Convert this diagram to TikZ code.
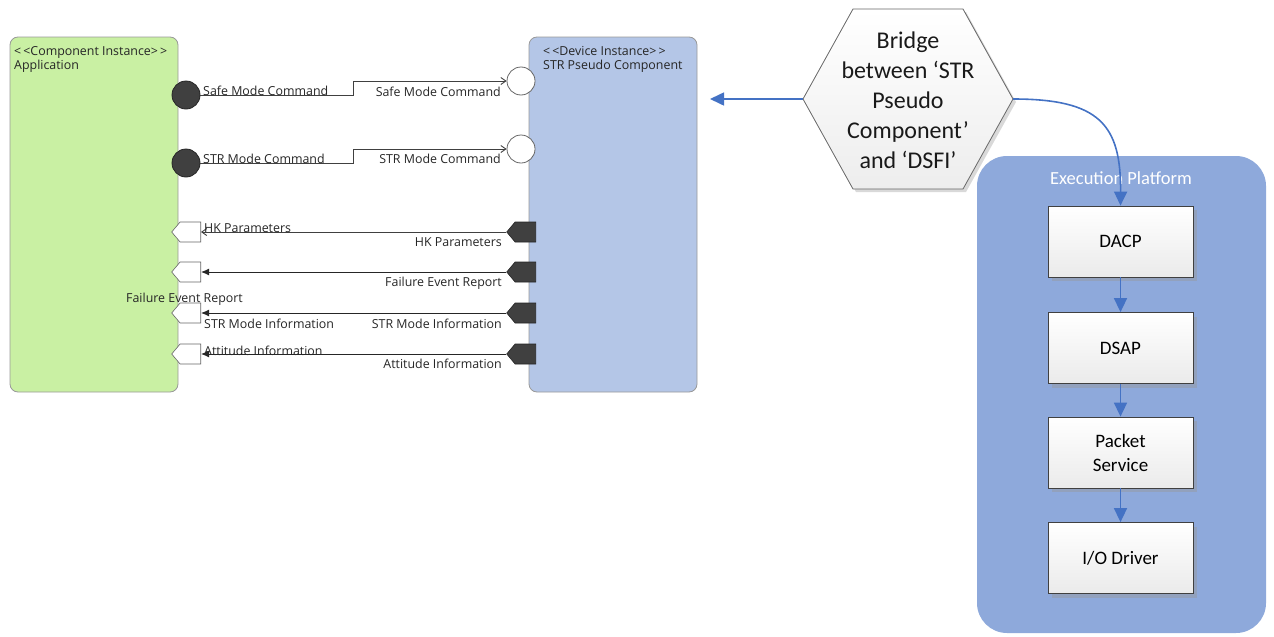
\documentclass[tikz,border=0pt]{standalone}
\usepackage{fontspec}
\setmainfont{Carlito}
\newfontfamily\uifont{Open Sans}
\usetikzlibrary{arrows.meta,shapes.symbols,shadows}

\definecolor{appgreen}{HTML}{C9F0A3}
\definecolor{devblue}{HTML}{B4C6E7}
\definecolor{platblue}{HTML}{8EA9DB}
\definecolor{linkblue}{HTML}{4472C4}
\definecolor{portdark}{HTML}{404040}

\begin{document}
\begin{tikzpicture}[x=1pt,y=-1pt,
  comp/.style={draw=black!40, line width=0.8pt, rounded corners=8pt,
    minimum width=168, minimum height=355, inner sep=0pt},
  uitxt/.style={font=\uifont\fontsize{12.4}{14}\selectfont, inner sep=0pt, text=black!85},
  reqport/.style={circle, draw=black!85, fill=portdark, line width=0.8pt,
    minimum size=28, inner sep=0pt},
  provport/.style={circle, draw=black!60, fill=white, line width=0.8pt,
    minimum size=28, inner sep=0pt},
  outport/.style={shape=signal, signal to=west, signal pointer angle=100,
    draw=black!85, fill=portdark, line width=0.6pt, anchor=east,
    minimum width=29, minimum height=20, inner sep=0pt},
  inport/.style={shape=signal, signal to=west, signal pointer angle=100,
    draw=black!60, fill=white, line width=0.6pt, anchor=east,
    minimum width=29, minimum height=20, inner sep=0pt},
  cmdflow/.style={draw=black!75, line width=0.9pt, -{Straight Barb[length=5pt,width=7pt]}},
  thinflow/.style={draw=black!75, line width=0.9pt, -{Straight Barb[length=5pt,width=7pt]}},
  dataflow/.style={draw=black!85, line width=1pt, -{Latex[length=8pt,width=7pt]}},
  link/.style={draw=linkblue, line width=1.6pt, -{Triangle[length=14pt,width=13pt]}},
  layer/.style={draw=black!75, line width=0.8pt, top color=white, bottom color=black!8,
    minimum width=145, minimum height=71, inner sep=2pt, align=center,
    font=\fontsize{19}{24}\selectfont,
    drop shadow={shadow xshift=4pt, shadow yshift=-4pt, fill=black!40, opacity=0.45}},
]
\useasboundingbox (0,0) rectangle (1274,637);

% ---------- component and device ----------
\node[comp, fill=appgreen] (app) at (94,214.5) {};
\node[comp, fill=devblue] (dev) at (613,214.5) {};
\node[uitxt, anchor=base west] (appst) at (14,55) {<\,<Component Instance>\,>};
\node[uitxt, anchor=base west] (appname) at (14,69) {Application};
\node[uitxt, anchor=base west] (devst) at (543,55) {<\,<Device Instance>\,>};
\node[uitxt, anchor=base west] (devname) at (543,69) {STR Pseudo Component};

% ---------- command interfaces ----------
\node[reqport] (safeA) at (186,95) {};
\node[provport] (safeB) at (521,81) {};
\node[reqport] (strA) at (186,163) {};
\node[provport] (strB) at (521,149) {};
\draw[cmdflow] (safeA.east) -- ++(153,0) |- (safeB.west);
\draw[cmdflow] (strA.east) -- ++(153,0) |- (strB.west);
\node[uitxt, anchor=base west] (safeLa) at (203,95) {Safe Mode Command};
\node[uitxt, anchor=base east] (safeLb) at (501,96) {Safe Mode Command};
\node[uitxt, anchor=base west] (strLa) at (203,163) {STR Mode Command};
\node[uitxt, anchor=base east] (strLb) at (501,163) {STR Mode Command};

% ---------- data interfaces ----------
\node[outport] (hkD) at (536,232) {};
\node[outport] (ferD) at (536,272) {};
\node[outport] (smiD) at (536,313) {};
\node[outport] (attD) at (536,354) {};
\node[inport] (hkA) at (201,232) {};
\node[inport] (ferA) at (201,272) {};
\node[inport] (smiA) at (201,313) {};
\node[inport] (attA) at (201,354) {};
\draw[thinflow] (hkD.west) -- (hkA.east);
\draw[dataflow] (ferD.west) -- (ferA.east);
\draw[dataflow] (smiD.west) -- (smiA.east);
\draw[dataflow] (attD.west) -- (attA.east);
\node[uitxt, anchor=base west] (hkLa) at (204,232) {HK Parameters};
\node[uitxt, anchor=base east] (hkLb) at (502,246) {HK Parameters};
\node[uitxt, anchor=base west] (ferLa) at (126,302) {Failure Event Report};
\node[uitxt, anchor=base east] (ferLb) at (502,286) {Failure Event Report};
\node[uitxt, anchor=base west] (smiLa) at (204,328) {STR Mode Information};
\node[uitxt, anchor=base east] (smiLb) at (502,328) {STR Mode Information};
\node[uitxt, anchor=base west] (attLa) at (204,355) {Attitude Information};
\node[uitxt, anchor=base east] (attLb) at (502,368) {Attitude Information};

% ---------- bridge hexagon ----------
\coordinate (hexL) at (803,99);
\coordinate (hexR) at (1013,99);
\fill[black!25, opacity=0.6] ([shift={(3,3)}]hexL) -- (856,12) -- (966,12) -- ([shift={(3,3)}]hexR) -- (966,192) -- (856,192) -- cycle;
\draw[black!60, line width=0.8pt, top color=white, bottom color=black!7]
  (hexL) -- (853,9) -- (963,9) -- (hexR) -- (963,189) -- (853,189) -- cycle;
\node[align=center, inner sep=0pt, font=\fontsize{24}{30}\selectfont, text=black!90] (bridge) at (908,100)
  {Bridge\\between ‘STR\\Pseudo\\Component’\\and ‘DSFI’};
\coordinate (devIn) at (710,99);
\draw[link] (hexL) -- (devIn);

% ---------- execution platform ----------
\node[fill=platblue, rounded corners=30pt, minimum width=289, minimum height=477, inner sep=0pt] (plat) at (1121.5,394.5) {};
\node[anchor=base, inner sep=0pt, text=white, font=\fontsize{18.5}{22}\selectfont] (platname) at (1121,184) {Execution Platform};
\node[layer] (dacp) at (1120.5,241.5) {DACP};
\node[layer] (dsap) at (1120.5,348) {DSAP};
\node[layer] (pkt) at (1120.5,452.5) {Packet\\Service};
\node[layer] (io) at (1120.5,558) {I/O Driver};
\draw[link] (dacp) -- (dsap);
\draw[link] (dsap) -- (pkt);
\draw[link] (pkt) -- (io);
\draw[link] (hexR) .. controls (1100,99) and (1121,125) .. (dacp.north);
\end{tikzpicture}
\end{document}
